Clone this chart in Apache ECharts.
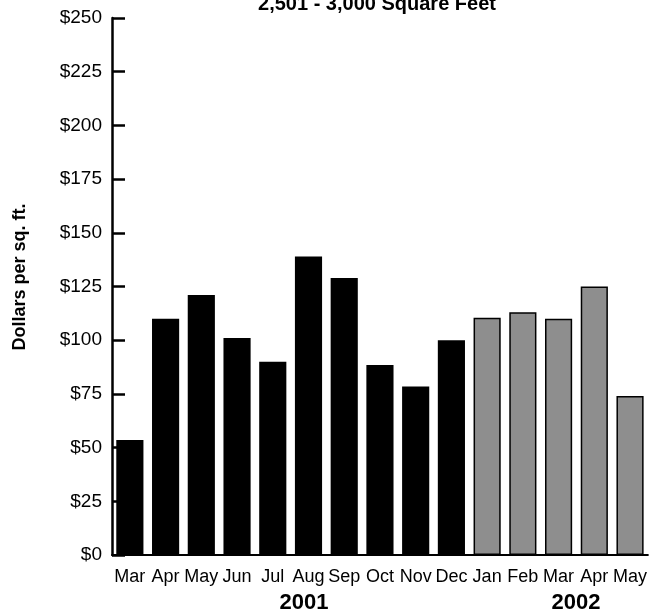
<!DOCTYPE html>
<html>
<head>
<meta charset="utf-8">
<script src="https://cdn.jsdelivr.net/npm/echarts@6/dist/echarts.min.js"></script>
<style>
  html, body { margin: 0; padding: 0; background: #fff; }
  #chart { width: 650px; height: 615px; }
</style>
</head>
<body>
<div id="chart"></div>
<script>
const months = ['Mar', 'Apr', 'May', 'Jun', 'Jul', 'Aug', 'Sep', 'Oct', 'Nov', 'Dec', 'Jan', 'Feb', 'Mar', 'Apr', 'May']
const values2001 = [53.5, 110, 121, 101, 90, 139, 129, 88.5, 78.5, 100]
const values2002 = [110.5, 113, 110, 125, 74]
const yearLabels = ['2001', '2002']
const yTicks = { min: 0, max: 250, interval: 25 }

const FONT = '"Liberation Sans Narrow", "Liberation Sans", Arial, sans-serif'

const chart = echarts.init(document.getElementById('chart'), null, { renderer: 'canvas' })

// one series per year, padded with nulls so both share the month axis
const data2001 = months.map((m, i) => i < values2001.length ? values2001[i] : null)
const data2002 = months.map((m, i) => i >= values2001.length ? values2002[i - values2001.length] : null)

const option = {
  animation: false,
  title: {
    text: '2,501 - 3,000 Square Feet',
    left: 372,
    top: -11,
    textAlign: 'center',
    textStyle: { fontFamily: FONT, fontSize: 20, fontWeight: 'bold', color: '#000' }
  },
  grid: { left: 112, right: 1, top: 18, bottom: 60 },
  xAxis: {
    type: 'category',
    data: months,
    axisLine: { lineStyle: { color: '#000', width: 2 } },
    axisTick: { show: false },
    axisLabel: { color: '#000', fontFamily: FONT, fontSize: 18, margin: 13, interval: 0, hideOverlap: false }
  },
  yAxis: {
    type: 'value',
    min: yTicks.min,
    max: yTicks.max,
    interval: yTicks.interval,
    axisLine: { show: true, lineStyle: { color: '#000', width: 2.5 } },
    axisTick: { show: true, inside: true, length: 13, lineStyle: { color: '#000', width: 2.5 } },
    axisLabel: {
      color: '#000', fontFamily: FONT, fontSize: 19, margin: 10,
      formatter: v => '$' + v
    },
    splitLine: { show: false }
  },
  series: [
    {
      name: '2001',
      type: 'bar',
      stack: 'all',
      data: data2001,
      barWidth: '76%',
      itemStyle: { color: '#000' }
    },
    {
      name: '2002',
      type: 'bar',
      stack: 'all',
      data: data2002,
      barWidth: '76%',
      itemStyle: { color: '#8e8e8e', borderColor: '#000', borderWidth: 1.5 }
    }
  ],
  graphic: [
    {
      type: 'text', x: 20, y: 277, rotation: Math.PI / 2,
      style: { text: 'Dollars per sq. ft.', fontFamily: FONT, fontSize: 18, fontWeight: 'bold', fill: '#000', align: 'center', verticalAlign: 'middle' }
    },
    {
      type: 'text', x: 304, y: 603,
      style: { text: yearLabels[0], fontFamily: FONT, fontSize: 22, fontWeight: 'bold', fill: '#000', align: 'center', verticalAlign: 'middle' }
    },
    {
      type: 'text', x: 576, y: 603,
      style: { text: yearLabels[1], fontFamily: FONT, fontSize: 22, fontWeight: 'bold', fill: '#000', align: 'center', verticalAlign: 'middle' }
    }
  ]
}

chart.setOption(option)
</script>
</body>
</html>
